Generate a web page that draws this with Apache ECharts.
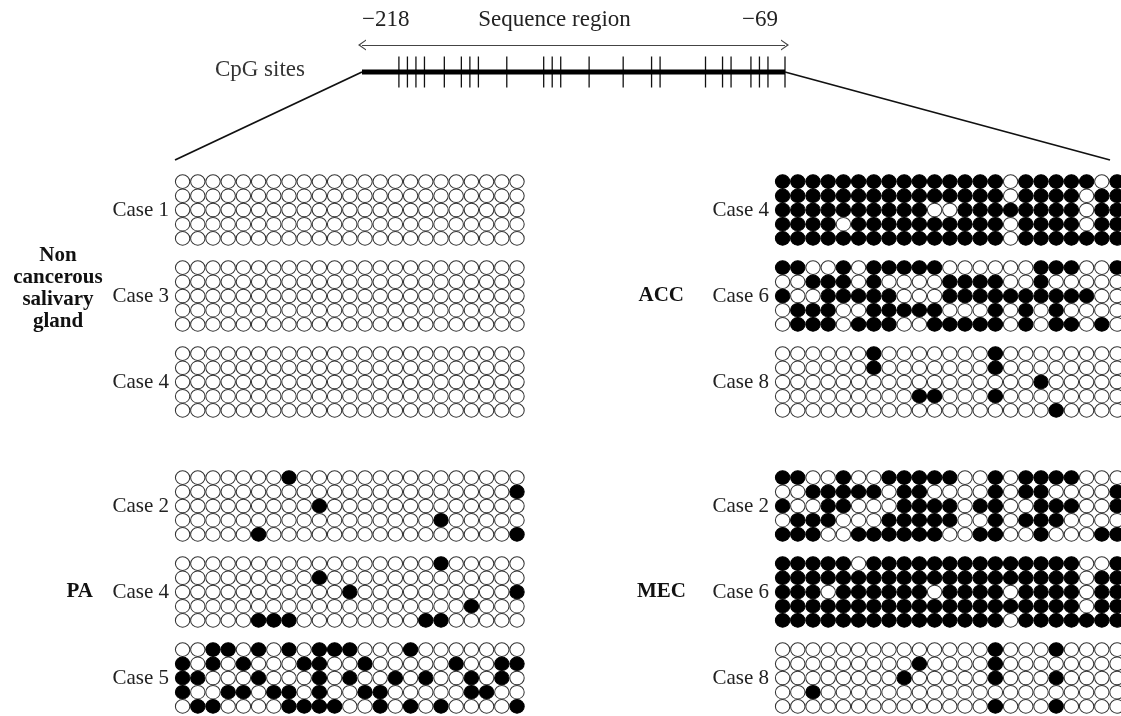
<!DOCTYPE html>
<html>
<head>
<meta charset="utf-8">
<script src="https://cdn.jsdelivr.net/npm/echarts@6/dist/echarts.min.js"></script>
<style>
  html, body { margin: 0; padding: 0; background: #ffffff; }
  #chart { width: 1121px; height: 716px; }
</style>
</head>
<body>
<div id="chart"></div>
<script>
// ---- Sequence region and CpG site positions (bp relative to TSS) ----
const regionStart = -218;
const regionEnd = -69;
const cpgSites = [-205, -202, -199, -196, -189, -183, -180, -177, -167, -154, -151, -148,
                  -138, -126, -116, -113, -97, -91, -88, -81, -78, -75, -69];
const cloneIds = ['1', '2', '3', '4', '5'];

// ---- Bisulfite clones: one string per clone, one digit per CpG (1 = methylated) ----
const ncCase1 = [
  '00000 00000 00000 00000 000',
  '00000 00000 00000 00000 000',
  '00000 00000 00000 00000 000',
  '00000 00000 00000 00000 000',
  '00000 00000 00000 00000 000'
];
const ncCase3 = [
  '00000 00000 00000 00000 000',
  '00000 00000 00000 00000 000',
  '00000 00000 00000 00000 000',
  '00000 00000 00000 00000 000',
  '00000 00000 00000 00000 000'
];
const ncCase4 = [
  '00000 00000 00000 00000 000',
  '00000 00000 00000 00000 000',
  '00000 00000 00000 00000 000',
  '00000 00000 00000 00000 000',
  '00000 00000 00000 00000 000'
];
const paCase2 = [
  '00000 00100 00000 00000 000',
  '00000 00000 00000 00000 001',
  '00000 00001 00000 00000 000',
  '00000 00000 00000 00100 000',
  '00000 10000 00000 00000 001'
];
const paCase4 = [
  '00000 00000 00000 00100 000',
  '00000 00001 00000 00000 000',
  '00000 00000 01000 00000 001',
  '00000 00000 00000 00001 000',
  '00000 11100 00000 01100 000'
];
const paCase5 = [
  '00110 10101 11000 10000 000',
  '10101 00011 00100 00010 011',
  '11000 10001 01001 01001 010',
  '10011 01101 00110 00001 100',
  '01100 00111 10010 10100 001'
];
const accCase4 = [
  '11111 11111 11111 01111 101',
  '11111 11111 11111 01111 011',
  '11111 11111 00111 11111 011',
  '11110 11111 11111 01111 011',
  '11111 11111 11111 01111 111'
];
const accCase6 = [
  '11001 01111 10000 00111 001',
  '00111 01000 01111 00100 000',
  '10011 11100 01111 11111 100',
  '01110 01111 10001 01010 000',
  '01110 11100 11111 01011 010'
];
const accCase8 = [
  '00000 01000 00001 00000 000',
  '00000 01000 00001 00000 000',
  '00000 00000 00000 00100 000',
  '00000 00001 10001 00000 000',
  '00000 00000 00000 00010 000'
];
const mecCase2 = [
  '11001 00111 11001 01111 000',
  '00111 11011 00001 01100 001',
  '10011 00011 11011 00111 001',
  '01110 00111 11001 01110 000',
  '11100 11111 10011 00100 011'
];
const mecCase6 = [
  '11111 01111 11111 11111 001',
  '11111 11111 11111 11111 011',
  '11101 11111 01111 01111 011',
  '11111 11111 11111 11111 011',
  '11111 11111 11111 01111 111'
];
const mecCase8 = [
  '00000 00000 00001 00010 000',
  '00000 00001 00001 00000 000',
  '00000 00010 00001 00010 000',
  '00100 00000 00000 00000 000',
  '00000 00000 00001 00010 000'
];

const leftPanels = [ncCase1, ncCase3, ncCase4, paCase2, paCase4, paCase5];
const leftLabels = ['Case 1', 'Case 3', 'Case 4', 'Case 2', 'Case 4', 'Case 5'];
const rightPanels = [accCase4, accCase6, accCase8, mecCase2, mecCase6, mecCase8];
const rightLabels = ['Case 4', 'Case 6', 'Case 8', 'Case 2', 'Case 6', 'Case 8'];

// ---- Layout ----
const SERIF = '"Liberation Serif", "DejaVu Serif", serif';
const COL = 15.2;               // horizontal pitch of one CpG
const ROW = 14.2;               // vertical pitch of one clone
const LEFT_X = 175, RIGHT_X = 775;
const SLOT_CENTERS = [210, 296, 382, 506, 592, 678];

const grids = [], xAxes = [], yAxes = [], series = [];

const openStyle = { color: '#ffffff', borderColor: '#333333', borderWidth: 1, opacity: 1 };
const filledStyle = { color: '#000000', borderColor: '#000000', borderWidth: 1, opacity: 1 };

function addPanel(clones, label, left, cy) {
  const idx = grids.length;
  grids.push({
    left: left, top: cy - 2.5 * ROW,
    width: cpgSites.length * COL, height: cloneIds.length * ROW,
    outerBoundsMode: 'none', containLabel: false
  });
  xAxes.push({
    gridIndex: idx, type: 'category', data: cpgSites.map(String), show: false
  });
  yAxes.push({
    gridIndex: idx, type: 'category', data: cloneIds, inverse: true,
    name: label, nameLocation: 'middle', nameRotate: 0, nameGap: 6,
    nameTextStyle: { fontFamily: SERIF, fontSize: 21, color: '#222' },
    axisLine: { show: false }, axisTick: { show: false },
    axisLabel: { show: false }, splitLine: { show: false }
  });
  const data = [];
  clones.forEach((row, r) => {
    row.replace(/\s/g, '').split('').forEach((ch, c) => {
      data.push({ value: [c, r], itemStyle: ch === '1' ? filledStyle : openStyle });
    });
  });
  series.push({
    type: 'scatter', xAxisIndex: idx, yAxisIndex: idx, data: data,
    symbol: 'circle', symbolSize: [14.4, 13.6], silent: true, clip: false,
    itemStyle: { opacity: 1 }
  });
}

leftPanels.forEach((p, i) => addPanel(p, leftLabels[i], LEFT_X, SLOT_CENTERS[i]));
rightPanels.forEach((p, i) => addPanel(p, rightLabels[i], RIGHT_X, SLOT_CENTERS[i]));

// ---- Sequence map across the top ----
const HEAD_LEFT = 362, HEAD_RIGHT = 785, HEAD_TOP = 40, HEAD_H = 50;
const BAR_Y = 0.36, ARROW_Y = 0.9;
const headIdx = grids.length;
grids.push({
  left: HEAD_LEFT, top: HEAD_TOP, width: HEAD_RIGHT - HEAD_LEFT, height: HEAD_H,
  outerBoundsMode: 'none', containLabel: false
});
xAxes.push({
  gridIndex: headIdx, type: 'value', min: regionStart, max: regionEnd, position: 'top',
  axisLine: { show: false }, axisTick: { show: false }, splitLine: { show: false },
  axisLabel: {
    customValues: [regionStart, regionEnd],
    formatter: v => '\u2212' + Math.abs(v),
    alignMinLabel: 'left', alignMaxLabel: 'right',
    padding: [0, 7, 0, 0],
    fontFamily: SERIF, fontSize: 23, color: '#222', margin: 9
  },
  name: 'Sequence region', nameLocation: 'middle', nameGap: 9, nameMoveOverlap: false,
  nameTextStyle: { fontFamily: SERIF, fontSize: 23, color: '#222', padding: [0, 38, 0, 0] }
});
yAxes.push({ gridIndex: headIdx, type: 'value', min: 0, max: 1, show: false });

const chevron = 'path://M0,10 L5,0 L10,10 L8.8,10 L5,2.6 L1.2,10 Z';
series.push({
  name: 'Sequence', type: 'line', xAxisIndex: headIdx, yAxisIndex: headIdx,
  data: [[regionStart, BAR_Y], [regionEnd, BAR_Y]],
  symbol: 'none', silent: true,
  lineStyle: { color: '#000', width: 5, cap: 'butt' },
  markLine: {
    silent: true, symbol: [chevron, chevron], symbolSize: [11, 8],
    lineStyle: { color: '#444', width: 1, type: 'solid' },
    label: { show: false },
    data: [[{ coord: [regionStart, ARROW_Y] }, { coord: [regionEnd, ARROW_Y] }]]
  }
});
series.push({
  name: 'CpG sites', type: 'scatter', xAxisIndex: headIdx, yAxisIndex: headIdx,
  data: cpgSites.map(p => [p, BAR_Y]),
  symbol: 'rect', symbolSize: [1.3, 31], silent: true,
  itemStyle: { color: '#111', opacity: 1 }
});

const chart = echarts.init(document.getElementById('chart'));
chart.setOption({
  animation: false,
  backgroundColor: '#ffffff',
  grid: grids,
  xAxis: xAxes,
  yAxis: yAxes,
  series: series,
  graphic: [
    { type: 'line', silent: true, shape: { x1: HEAD_LEFT, y1: 72, x2: LEFT_X, y2: 160 },
      style: { stroke: '#111', lineWidth: 1.8 } },
    { type: 'line', silent: true, shape: { x1: HEAD_RIGHT, y1: 72, x2: 1110, y2: 160 },
      style: { stroke: '#111', lineWidth: 1.8 } },
    { type: 'text', silent: true,
      style: { text: 'CpG sites', x: 305, y: 70, align: 'right', verticalAlign: 'middle',
               font: '23px ' + SERIF, fill: '#333' } },
    { type: 'text', silent: true,
      style: { text: 'Non\ncancerous\nsalivary\ngland', x: 58, y: 289, align: 'center',
               verticalAlign: 'middle', lineHeight: 22, font: 'bold 21px ' + SERIF, fill: '#111' } },
    { type: 'text', silent: true,
      style: { text: 'PA', x: 93, y: 592, align: 'right', verticalAlign: 'middle',
               font: 'bold 21px ' + SERIF, fill: '#111' } },
    { type: 'text', silent: true,
      style: { text: 'ACC', x: 684, y: 296, align: 'right', verticalAlign: 'middle',
               font: 'bold 21px ' + SERIF, fill: '#111' } },
    { type: 'text', silent: true,
      style: { text: 'MEC', x: 686, y: 592, align: 'right', verticalAlign: 'middle',
               font: 'bold 21px ' + SERIF, fill: '#111' } }
  ]
});
</script>
</body>
</html>
